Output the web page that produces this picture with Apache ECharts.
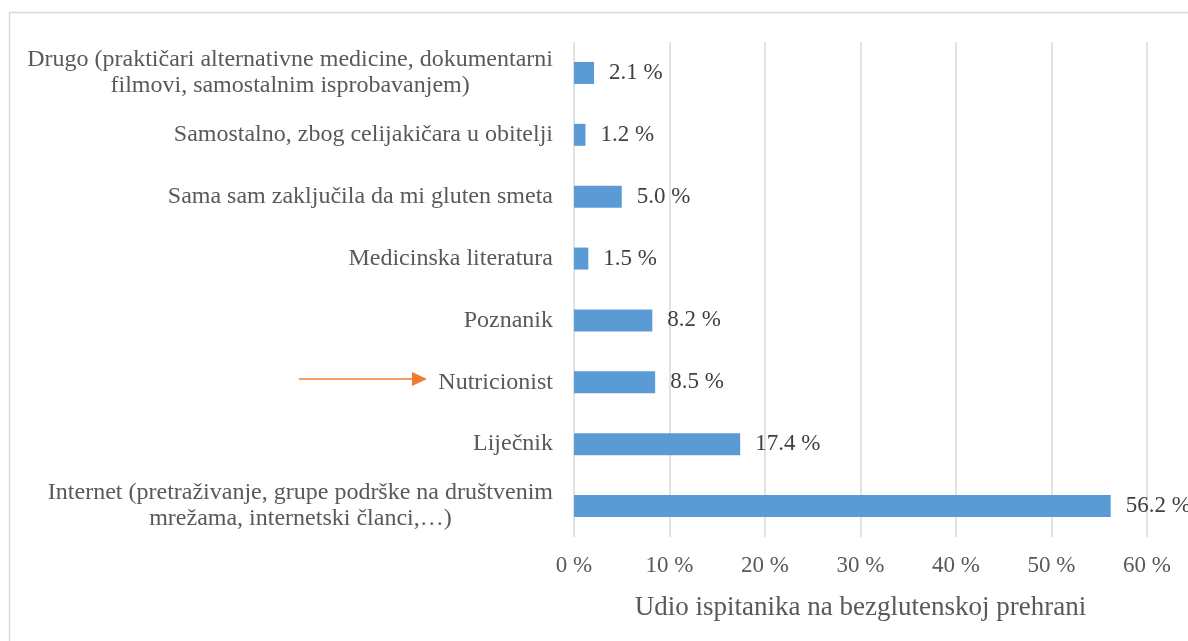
<!DOCTYPE html>
<html>
<head>
<meta charset="utf-8">
<style>html,body{margin:0;padding:0;background:#fff}#c{width:1188px;height:641px}</style>
<script src="https://cdn.jsdelivr.net/npm/echarts@6/dist/echarts.min.js"></script>
</head>
<body>
<div id="c"></div>
<script>
// Categories listed bottom to top
const categories = [
  'Internet (pretraživanje, grupe podrške na društvenim\nmrežama, internetski članci,…)',
  'Liječnik',
  'Nutricionist',
  'Poznanik',
  'Medicinska literatura',
  'Sama sam zaključila da mi gluten smeta',
  'Samostalno, zbog celijakičara u obitelji',
  'Drugo (praktičari alternativne medicine, dokumentarni\nfilmovi, samostalnim isprobavanjem)'
];
const values = [56.2, 17.4, 8.5, 8.2, 1.5, 5.0, 1.2, 2.1];
const xTicks = {min: 0, max: 60, interval: 10};
const axisTitle = 'Udio ispitanika na bezglutenskoj prehrani';

const FONT = '"Liberation Serif", "Times New Roman", serif';
const chart = echarts.init(document.getElementById('c'), null, {renderer: 'canvas'});
chart.setOption({
  animation: false,
  backgroundColor: '#fff',
  grid: {left: 574, right: 41, top: 42, bottom: 104, containLabel: false},
  xAxis: {
    type: 'value', min: xTicks.min, max: xTicks.max, interval: xTicks.interval,
    name: axisTitle, nameLocation: 'middle', nameGap: 57,
    nameTextStyle: {fontFamily: FONT, fontSize: 27, color: '#595959'},
    axisLine: {show: false}, axisTick: {show: false},
    axisLabel: {formatter: '{value} %', fontFamily: FONT, fontSize: 23, color: '#595959', margin: 17},
    splitLine: {show: true, lineStyle: {color: '#d9d9d9', width: 1.5}}
  },
  yAxis: {
    type: 'category', data: categories,
    axisLine: {show: false}, axisTick: {show: false},
    axisLabel: {
      margin: 21, fontFamily: FONT, fontSize: 24, color: '#595959', lineHeight: 26,
      formatter: function (v) {
        return v.split('\n').map(function (l) { return '{c|' + l + '}'; }).join('\n');
      },
      rich: {c: {align: 'center', fontFamily: FONT, fontSize: 24, color: '#595959', lineHeight: 26}}
    }
  },
  series: [{
    type: 'bar', data: values, barWidth: 22,
    itemStyle: {color: '#5B9BD5'},
    label: {
      show: true, position: 'right', distance: 15,
      fontFamily: FONT, fontSize: 23, color: '#404040',
      formatter: function (p) { return p.value.toFixed(1) + ' %'; }
    }
  }],
  graphic: [
    {type: 'rect', shape: {x: 9.5, y: 12.5, width: 1300, height: 800}, style: {fill: 'none', stroke: '#d9d9d9', lineWidth: 1.5}, silent: true},
    {type: 'line', shape: {x1: 299, y1: 379, x2: 415, y2: 379}, style: {stroke: '#ED7D31', lineWidth: 1.5}},
    {type: 'polygon', shape: {points: [[412, 372], [427, 379], [412, 386]]}, style: {fill: '#ED7D31'}}
  ]
});
</script>
</body>
</html>
